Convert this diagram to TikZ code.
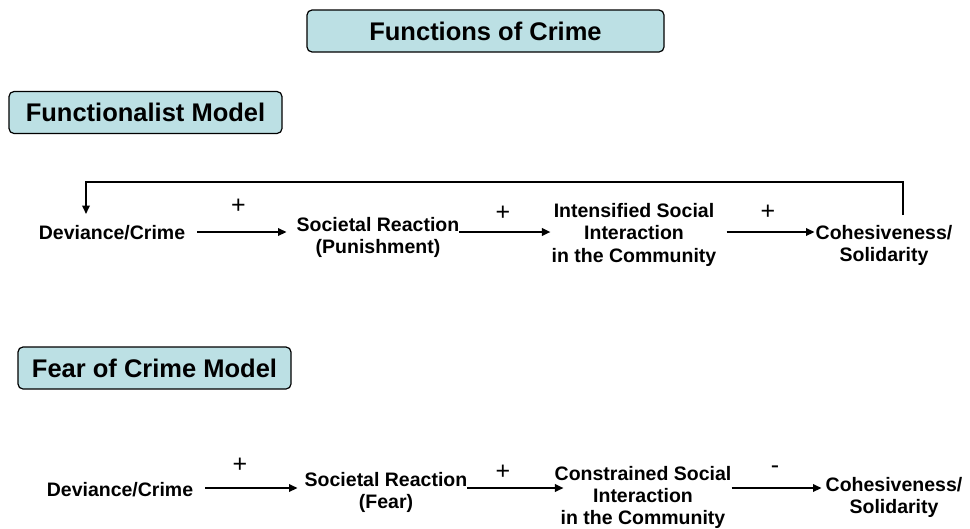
\documentclass[tikz,border=0pt]{standalone}
\usepackage{fontspec}
\setmainfont{Liberation Sans}
\usetikzlibrary{arrows.meta}
\definecolor{boxfill}{RGB}{188,224,228}
\begin{document}
\begin{tikzpicture}[x=1pt,y=-1pt,
  hdr/.style={draw=black, line width=1.2pt, fill=boxfill, rounded corners=5pt,
    font=\fontsize{25.5}{30}\selectfont\bfseries, inner sep=0pt, minimum height=42pt},
  lbl/.style={font=\fontsize{19.5}{22.5}\selectfont\bfseries, align=center, inner sep=0pt, anchor=north},
  sign/.style={font=\fontsize{25}{28}\selectfont, inner sep=0pt},
  arr/.style={line width=2pt, -{Triangle[length=8.5pt,width=7.5pt]}},
]
\useasboundingbox (0,0) rectangle (970,528);

% headers
\node[hdr, minimum width=357pt] (title) at (485.5,31) {Functions of Crime};
\node[hdr, minimum width=273pt] (fm) at (145.5,112.5) {Functionalist Model};
\node[hdr, minimum width=273pt] (fcm) at (154.5,368) {Fear of Crime Model};

% row 1
\coordinate (row1) at (0,232);
\node[lbl] (dev) at (112,225) {Deviance/Crime};
\node[lbl] (soc) at (378,217) {Societal Reaction\\(Punishment)};
\node[lbl] (int) at (634,203) {Intensified Social\\Interaction\\in the Community};
\node[lbl] (coh) at (884,225) {Cohesiveness/\\Solidarity};

\draw[arr, shorten <=12pt, shorten >=10pt] (dev.east |- row1) -- (soc.west |- row1);
\draw[arr, shorten >=1pt] (soc.east |- row1) -- (int.west |- row1);
\draw[arr, shorten <=10pt, shorten >=1pt] (int.east |- row1) -- (coh.west |- row1);

\node[sign] (p1) at (238.5,206) {+};
\node[sign] (p2) at (503,213) {+};
\node[sign] (p3) at (768,212) {+};

\coordinate (fbR) at (903,182);
\coordinate (fbL) at (86,182);
\draw[arr, shorten <=10pt, shorten >=11pt] (coh.north -| fbR) -- (fbR) -- (fbL) -- (fbL |- dev.north);

% row 2
\coordinate (row2) at (0,488);
\node[lbl] (dev2) at (120,482) {Deviance/Crime};
\node[lbl] (soc2) at (386,472) {Societal Reaction\\(Fear)};
\node[lbl, font=\fontsize{19.5}{22}\selectfont\bfseries] (con) at (643,466.5) {Constrained Social\\Interaction\\in the Community};
\node[lbl] (coh2) at (894,477) {Cohesiveness/\\Solidarity};

\draw[arr, shorten <=12pt, shorten >=7pt] (dev2.east |- row2) -- (soc2.west |- row2);
\draw[arr, shorten >=-9pt] (soc2.east |- row2) -- (con.west |- row2);
\draw[arr, shorten >=4pt] (con.east |- row2) -- (coh2.west |- row2);

\node[sign] (q1) at (240,465) {+};
\node[sign] (q2) at (503,472) {+};
\node[sign] (q3) at (775,470) {-};
\end{tikzpicture}
\end{document}
